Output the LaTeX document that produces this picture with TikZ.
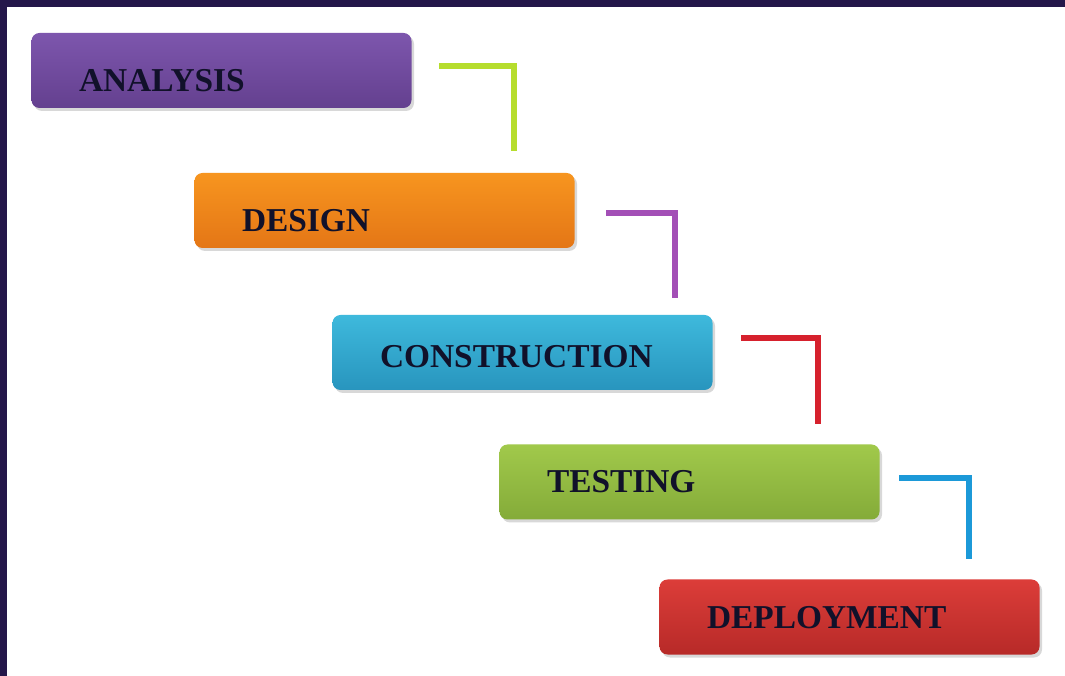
\documentclass[tikz,border=0pt]{standalone}
\usepackage{fontspec}
\setmainfont{Liberation Serif}
\usepackage[dvipsnames]{xcolor}
\usetikzlibrary{positioning,shadows}

\definecolor{framecol}{HTML}{24174A}
\definecolor{inkcol}{HTML}{11112A}
\definecolor{purpTop}{HTML}{7D56AD}
\definecolor{purpBot}{HTML}{64408F}
\definecolor{orngTop}{HTML}{F7951F}
\definecolor{orngBot}{HTML}{E47616}
\definecolor{cyanTop}{HTML}{3EB9DC}
\definecolor{cyanBot}{HTML}{2895BE}
\definecolor{grnTop}{HTML}{A1C94B}
\definecolor{grnBot}{HTML}{84AB39}
\definecolor{redTop}{HTML}{DC3D39}
\definecolor{redBot}{HTML}{B72A28}
\definecolor{limeLn}{HTML}{B6DD2D}
\definecolor{violetLn}{HTML}{A34FB6}
\definecolor{redLn}{HTML}{D6212D}
\definecolor{blueLn}{HTML}{1C99D8}

\begin{document}
\begin{tikzpicture}[-,thick,node distance=2.8cm,
    stage/.style={rectangle,rounded corners=0.16cm,minimum height=1.5cm,text width=5.7cm,inner xsep=0.95cm,align=left,text height=0.44cm,text depth=0pt,font=\bfseries\fontsize{19}{19}\selectfont,text=inkcol,drop shadow={opacity=0.3,shadow xshift=0.05cm,shadow yshift=-0.06cm}},
    link/.style={line width=0.11cm}]

    % dark frame on top and left
    \fill[framecol] (0,0) rectangle (21.3,-13.52);
    \fill[white] (0.14,-0.14) rectangle (21.3,-13.52);
    \useasboundingbox (0,0) rectangle (21.3,-13.52);

    \node (1) [stage,top color=purpTop,bottom color=purpBot,text height=0.86cm] at (4.43,-1.41) {ANALYSIS};
    \node (2) [stage,top color=orngTop,bottom color=orngBot,text height=0.86cm,below of=1,node distance=2.8cm,xshift=3.26cm] {DESIGN};
    \node (3) [stage,top color=cyanTop,bottom color=cyanBot,text height=0.6cm,below of=2,node distance=2.84cm,xshift=2.76cm] {CONSTRUCTION};
    \node (4) [stage,top color=grnTop,bottom color=grnBot,below of=3,node distance=2.59cm,xshift=3.34cm] {TESTING};
    \node (5) [stage,top color=redTop,bottom color=redBot,below of=4,node distance=2.7cm,xshift=3.2cm] {DEPLOYMENT};

    \draw[link,limeLn] ([xshift=0.54cm,yshift=0.09cm]1.east) -| ([xshift=-1.22cm,yshift=0.42cm]2.north east);
    \draw[link,violetLn] ([xshift=0.62cm,yshift=-0.05cm]2.east) -| ([xshift=-0.76cm,yshift=0.32cm]3.north east);
    \draw[link,redLn] ([xshift=0.56cm,yshift=0.29cm]3.east) -| ([xshift=-1.24cm,yshift=0.4cm]4.north east);
    \draw[link,blueLn] ([xshift=0.38cm,yshift=0.08cm]4.east) -| ([xshift=-1.42cm,yshift=0.4cm]5.north east);
\end{tikzpicture}
\end{document}
